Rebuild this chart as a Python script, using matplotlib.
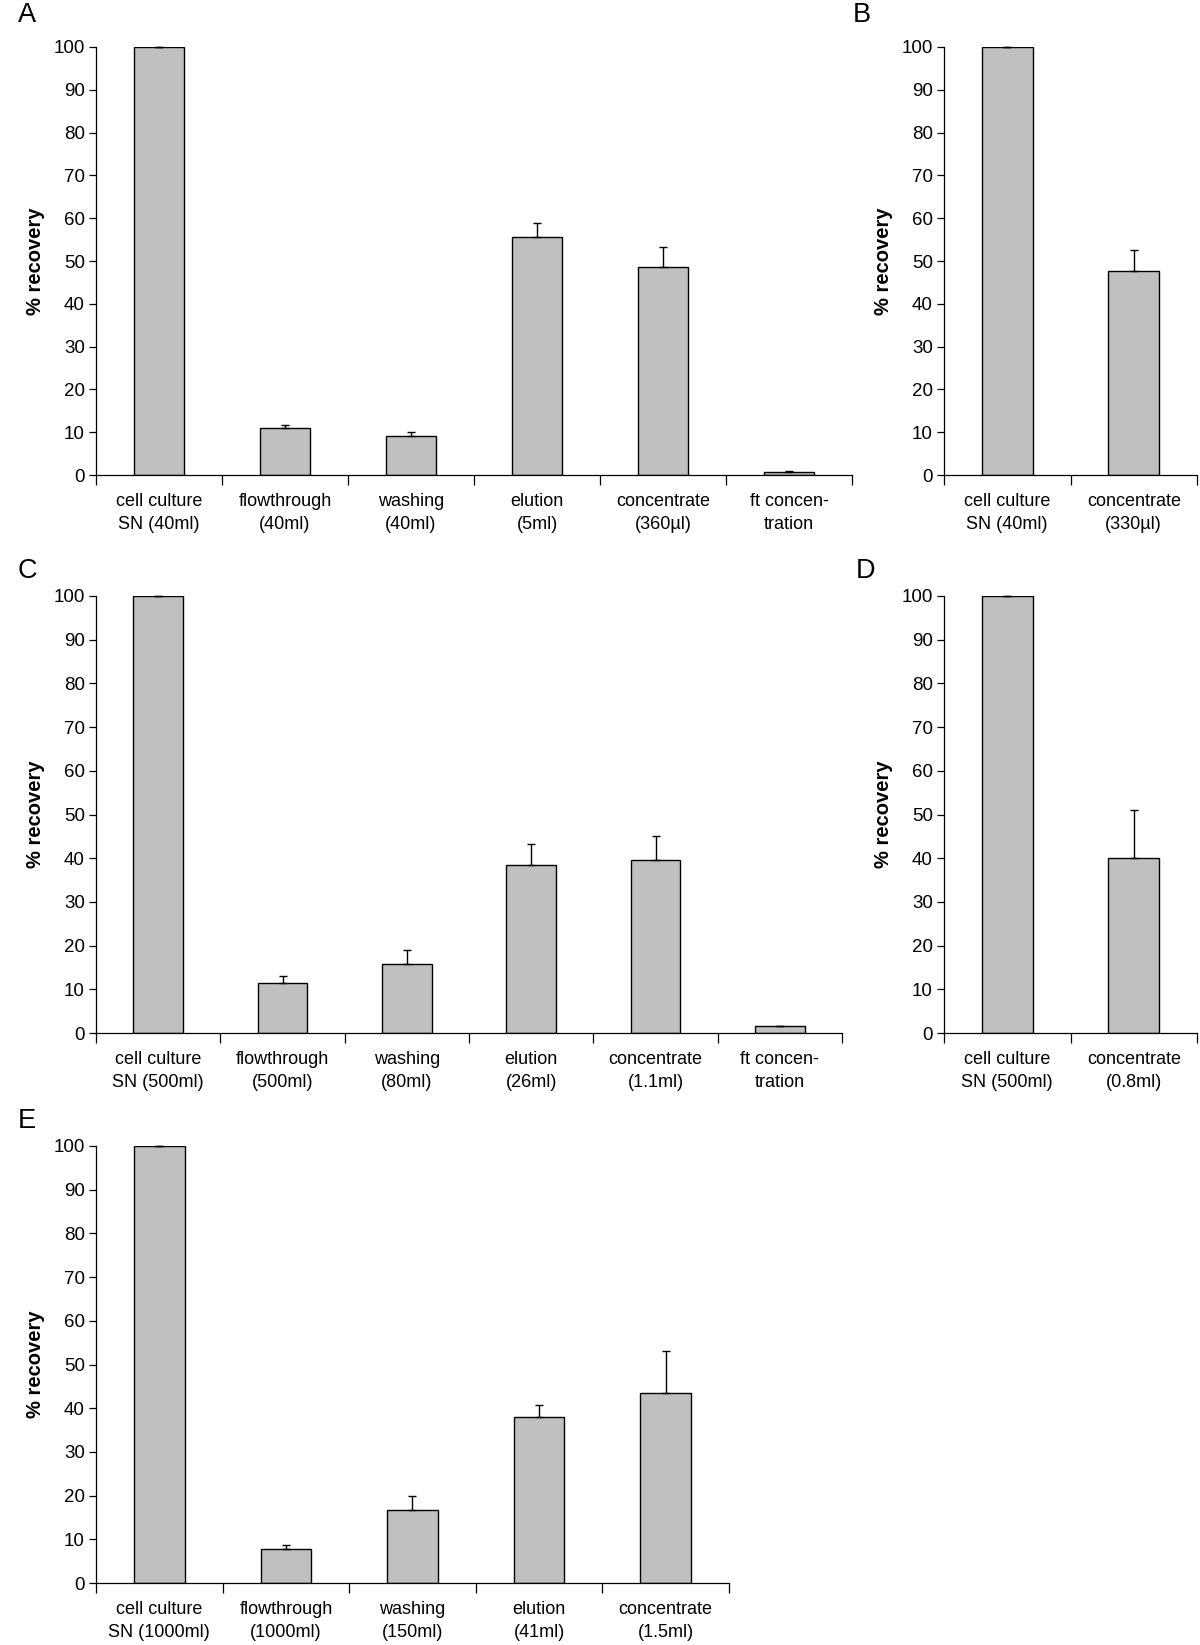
import matplotlib
matplotlib.use("Agg")
import matplotlib.pyplot as plt
import numpy as np

plt.rcParams['font.family'] = ['Liberation Sans', 'DejaVu Sans']

# ---- data ----
labels_A = ["cell culture\nSN (40ml)", "flowthrough\n(40ml)", "washing\n(40ml)",
            "elution\n(5ml)", "concentrate\n(360µl)", "ft concen-\ntration"]
values_A = [100, 10.9, 9.2, 55.5, 48.7, 0.7]
errors_A = [0, 0.8, 0.8, 3.3, 4.5, 0.3]

labels_B = ["cell culture\nSN (40ml)", "concentrate\n(330µl)"]
values_B = [100, 47.7]
errors_B = [0, 4.8]

labels_C = ["cell culture\nSN (500ml)", "flowthrough\n(500ml)", "washing\n(80ml)",
            "elution\n(26ml)", "concentrate\n(1.1ml)", "ft concen-\ntration"]
values_C = [100, 11.4, 15.9, 38.5, 39.6, 1.5]
errors_C = [0, 1.6, 3.2, 4.7, 5.5, 0]

labels_D = ["cell culture\nSN (500ml)", "concentrate\n(0.8ml)"]
values_D = [100, 40.0]
errors_D = [0, 11.1]

labels_E = ["cell culture\nSN (1000ml)", "flowthrough\n(1000ml)", "washing\n(150ml)",
            "elution\n(41ml)", "concentrate\n(1.5ml)"]
values_E = [100, 7.7, 16.7, 38.0, 43.5]
errors_E = [0, 1.0, 3.2, 2.8, 9.6]

yticks = list(range(0, 101, 10))

W, H = 1200, 1645
fig = plt.figure(figsize=(W / 100, H / 100), dpi=100)


def make_axes(left, right, top, bottom):
    return fig.add_axes([left / W, 1 - bottom / H, (right - left) / W, (bottom - top) / H])


def panel(ax, labels, values, errors, left_px, width_px, label_x_px):
    n = len(values)
    x = np.arange(n)
    ax.bar(x, values, width=0.4, color="#c0c0c0", edgecolor="black", linewidth=1.0,
           yerr=[np.zeros(n), errors], zorder=2,
           error_kw=dict(ecolor="black", elinewidth=1.0, capsize=3.2, capthick=1.0,
                         clip_on=False))
    ax.set_xlim(-0.5, n - 0.5)
    ax.set_ylim(0, 100)
    ax.set_yticks(yticks)
    ax.tick_params(axis='y', direction='out', length=5, width=0.9, labelsize=13.5, pad=3)
    ax.set_xticks(np.arange(n + 1) - 0.5)
    ax.set_xticklabels([])
    ax.tick_params(axis='x', which='major', direction='out', length=7, width=0.9)
    ax.set_xticks(x, minor=True)
    ax.set_xticklabels(labels, minor=True, fontsize=13, linespacing=1.45)
    ax.tick_params(axis='x', which='minor', length=0, pad=13)
    for s in ["top", "right"]:
        ax.spines[s].set_visible(False)
    for s in ["left", "bottom"]:
        ax.spines[s].set_linewidth(0.9)
    ax.set_ylabel("% recovery", fontsize=14.5, fontweight="bold")
    ax.yaxis.set_label_coords((label_x_px - left_px) / width_px, 0.5)


axA = make_axes(96, 852, 47, 475)
panel(axA, labels_A, values_A, errors_A, 96, 756, 45)
axB = make_axes(944, 1197, 47, 475)
panel(axB, labels_B, values_B, errors_B, 944, 253, 893)
axC = make_axes(96, 842, 596, 1033)
panel(axC, labels_C, values_C, errors_C, 96, 746, 45)
axD = make_axes(944, 1197, 596, 1033)
panel(axD, labels_D, values_D, errors_D, 944, 253, 893)
axE = make_axes(96, 729, 1146, 1583)
panel(axE, labels_E, values_E, errors_E, 96, 633, 45)

for letter, xp, yb in [("A", 18, 22), ("B", 853, 22), ("C", 18, 578),
                       ("D", 856, 578), ("E", 18, 1128)]:
    fig.text(xp / W, 1 - yb / H, letter, fontsize=19.5, va="baseline", ha="left")

fig.savefig("out.png", dpi=100, facecolor="white")
